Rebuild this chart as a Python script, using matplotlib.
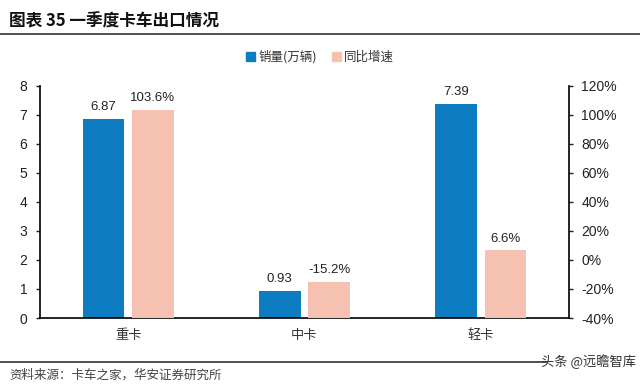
import numpy as np
import matplotlib
matplotlib.use("Agg")
import matplotlib.pyplot as plt
from matplotlib.lines import Line2D
from matplotlib.patches import Patch

plt.rcParams['font.family'] = ['Liberation Sans', 'Noto Sans CJK SC', 'DejaVu Sans']

# ---------- data ----------
categories = ["重卡", "中卡", "轻卡"]
sales = [6.87, 0.93, 7.39]           # 万辆
growth = [103.6, -15.2, 6.6]         # %
sales_labels = ["6.87", "0.93", "7.39"]
growth_labels = ["103.6%", "-15.2%", "6.6%"]

BLUE = "#0E7CC0"
PINK = "#F5C2B2"
CJK = ['Noto Sans CJK SC', 'DejaVu Sans']

fig = plt.figure(figsize=(6.4, 3.85), dpi=100)
ax = fig.add_axes([0.0625, 0.174, 0.8265, 0.603])
ax2 = ax.twinx()

x = np.arange(len(categories))
w = 0.235
off = 0.14

ax.bar(x - off, sales, width=w, color=BLUE, zorder=2)
for xi, v, lab in zip(x, sales, sales_labels):
    ax.text(xi - off, v + 0.2, lab, ha="center", va="bottom", fontsize=9.5, color="#222222")

# growth bars are drawn up from the bottom of the right axis
g_bottom = -40
ax2.bar(x + off, [g - g_bottom for g in growth], width=w, bottom=g_bottom, color=PINK, zorder=2)
for xi, v, lab in zip(x, growth, growth_labels):
    ax2.text(xi + off, v + 4, lab, ha="center", va="bottom", fontsize=9.5, color="#222222")

ax.set_xlim(-0.5, 2.5)
ax.set_ylim(0, 8)
ax.set_yticks(range(0, 9))
ax2.set_ylim(-40, 120)
ax2.set_yticks(range(-40, 121, 20))
ax2.set_yticklabels([f"{t}%" for t in range(-40, 121, 20)])

ax.set_xticks(x)
ax.set_xticklabels(categories, family=CJK, fontsize=9.5, color="#333333")
ax.tick_params(axis="x", length=0, pad=8)
ax.tick_params(axis="y", direction="out", length=3, width=1, labelsize=10, colors="#222222", pad=6)
ax2.tick_params(axis="y", direction="out", length=3, width=1, labelsize=10, colors="#222222", pad=6)

for a in (ax, ax2):
    a.spines["top"].set_visible(False)
    for s in ("left", "right", "bottom"):
        a.spines[s].set_color("black")
        a.spines[s].set_linewidth(1.2)
ax.spines["right"].set_visible(False)
ax2.spines["left"].set_visible(False)
ax2.spines["bottom"].set_visible(False)

handles = [Patch(color=BLUE, label="销量(万辆)"), Patch(color=PINK, label="同比增速")]
fig.legend(handles=handles, loc="center", bbox_to_anchor=(0.5, 0.852), ncol=2, frameon=False,
           prop={"family": CJK, "size": 9}, handlelength=0.7, handleheight=0.7,
           handletextpad=0.3, columnspacing=1.2, labelcolor="#333333")

# title + rules
fig.text(0.014, 0.943, "图表 35 一季度卡车出口情况", family=CJK, fontsize=12, fontweight="bold",
         va="center", ha="left", color="#111111")
fig.add_artist(Line2D([0.0, 1.0], [0.912, 0.912], color="#333333", linewidth=1.2))
fig.add_artist(Line2D([0.0, 0.855], [0.06, 0.06], color="#333333", linewidth=1.2))
fig.text(0.014, 0.025, "资料来源：卡车之家，华安证券研究所", family=CJK, fontsize=9,
         va="center", ha="left", color="#444444")
fig.text(0.993, 0.06, "头条 @远瞻智库", family=CJK, fontsize=9.5,
         va="center", ha="right", color="#333333")

fig.savefig("out.png", dpi=100)
